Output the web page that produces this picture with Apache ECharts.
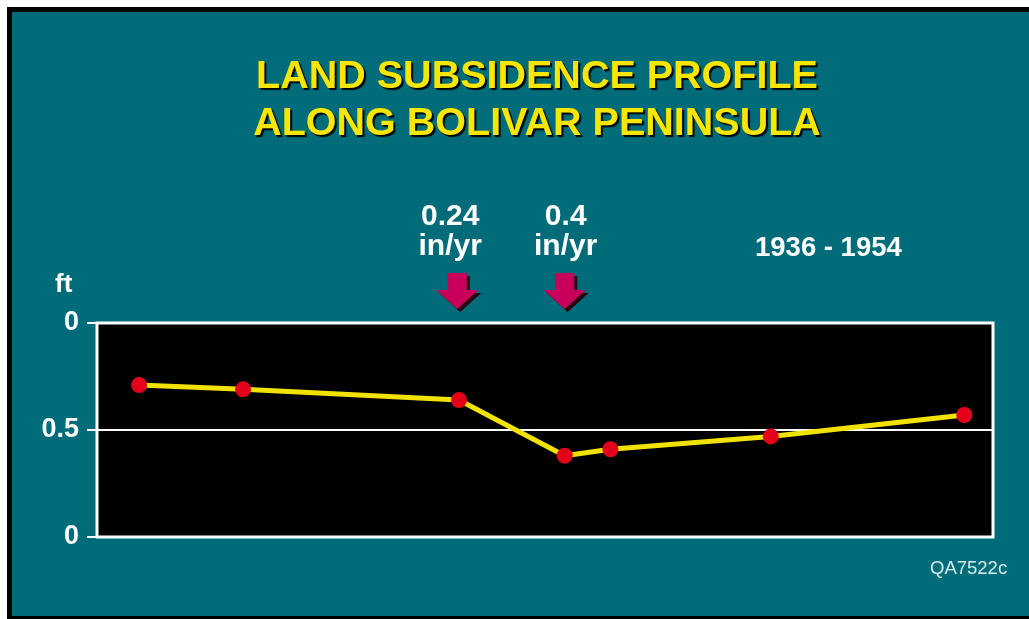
<!DOCTYPE html>
<html>
<head>
<meta charset="utf-8">
<script src="https://cdn.jsdelivr.net/npm/echarts@6/dist/echarts.min.js"></script>
<style>
  html, body { margin: 0; padding: 0; background: #fff; }
  #main { width: 1029px; height: 619px; }
</style>
</head>
<body>
<div id="main"></div>
<script>
// distance along the peninsula (arbitrary units, 0-100) and subsidence in ft
var distance = [4.7, 16.3, 40.4, 52.2, 57.3, 75.2, 96.8];
var subsidence = [0.29, 0.31, 0.36, 0.62, 0.59, 0.53, 0.43];

var yTicks = [0, 0.5, 1];
var yTickLabels = ['0', '0.5', '0'];

// subsidence rate arrows
var rateX = [40.2, 52.2];
var rateLabels = ['0.24\nin/yr', '0.4\nin/yr'];

var titleLines = ['LAND SUBSIDENCE PROFILE', 'ALONG BOLIVAR PENINSULA'];
var periodLabel = '1936 - 1954';

var myChart = echarts.init(document.getElementById('main'));

var arrowPath = 'path://M10,0 L30,0 L30,17 L42,17 L20,36 L-2,17 L10,17 Z';

var option = {
    backgroundColor: '#006c7a',
    animation: false,
    grid: {
        left: 97,
        top: 323,
        right: 36,
        bottom: 82,
        show: true,
        backgroundColor: '#000',
        borderColor: '#fff',
        borderWidth: 3
    },
    xAxis: {
        type: 'value',
        min: 0,
        max: 100,
        show: false
    },
    yAxis: {
        type: 'value',
        inverse: true,
        min: 0,
        max: 1,
        interval: 0.5,
        axisLine: { show: false },
        axisTick: {
            show: true,
            length: 10,
            lineStyle: { color: '#fff', width: 2 }
        },
        splitLine: {
            show: true,
            lineStyle: { color: '#fff', width: 2 }
        },
        axisLabel: {
            color: '#fff',
            fontFamily: 'Liberation Sans, Arial, sans-serif',
            fontWeight: 'bold',
            fontSize: 27,
            margin: 18,
            formatter: function (v) {
                var i = yTicks.indexOf(v);
                return i >= 0 ? yTickLabels[i] : '';
            }
        }
    },
    graphic: [
        { type: 'rect', shape: { x: 0, y: 0, width: 7, height: 619 }, style: { fill: '#fff' } },
        { type: 'rect', shape: { x: 0, y: 0, width: 1029, height: 7 }, style: { fill: '#fff' } },
        { type: 'rect', shape: { x: 7, y: 7, width: 5, height: 612 }, style: { fill: '#000' } },
        { type: 'rect', shape: { x: 7, y: 7, width: 1022, height: 5 }, style: { fill: '#000' } },
        { type: 'rect', shape: { x: 7, y: 616, width: 1022, height: 3 }, style: { fill: '#000' } },
        {
            type: 'text', x: 537, y: 54,
            style: {
                text: titleLines.join('\n'),
                align: 'center',
                fill: '#f7e600',
                font: 'bold 39.5px Liberation Sans, Arial, sans-serif',
                lineHeight: 47,
                textShadowColor: '#000',
                textShadowOffsetX: 2,
                textShadowOffsetY: 2,
                textShadowBlur: 1
            }
        },
        {
            type: 'text', left: 55, top: 272,
            style: {
                text: 'ft', fill: '#fff',
                font: 'bold 26px Liberation Sans, Arial, sans-serif'
            }
        },
        {
            type: 'text', left: 755, top: 234,
            style: {
                text: periodLabel, fill: '#fff',
                font: 'bold 27.5px Liberation Sans, Arial, sans-serif'
            }
        },
        {
            type: 'text', left: 930, top: 559,
            style: {
                text: 'QA7522c', fill: '#d4ecee',
                font: '18.5px Liberation Sans, Arial, sans-serif'
            }
        }
    ],
    series: [
        {
            name: 'subsidence',
            type: 'line',
            data: distance.map(function (d, i) { return [d, subsidence[i]]; }),
            symbol: 'circle',
            symbolSize: 16,
            lineStyle: { color: '#f2e200', width: 5 },
            itemStyle: { color: '#e3001b' },
            z: 3
        },
        {
            name: 'rate',
            type: 'scatter',
            clip: false,
            data: rateX.map(function (x, i) {
                return {
                    value: [x, -0.15],
                    label: { formatter: rateLabels[i], offset: [i === 0 ? -7 : 1, 0] }
                };
            }),
            symbol: arrowPath,
            symbolSize: [42, 36],
            itemStyle: {
                color: '#c8005c',
                opacity: 1,
                shadowColor: '#2a0010',
                shadowOffsetX: 3,
                shadowOffsetY: 3,
                shadowBlur: 0
            },
            label: {
                show: true,
                position: 'top',
                distance: 11,
                color: '#fff',
                fontFamily: 'Liberation Sans, Arial, sans-serif',
                fontWeight: 'bold',
                fontSize: 30,
                lineHeight: 30,
                textShadowColor: 'rgba(0,0,0,0.6)',
                textShadowOffsetX: 1,
                textShadowOffsetY: 1
            },
            z: 4
        }
    ]
};
myChart.setOption(option);
</script>
</body>
</html>
